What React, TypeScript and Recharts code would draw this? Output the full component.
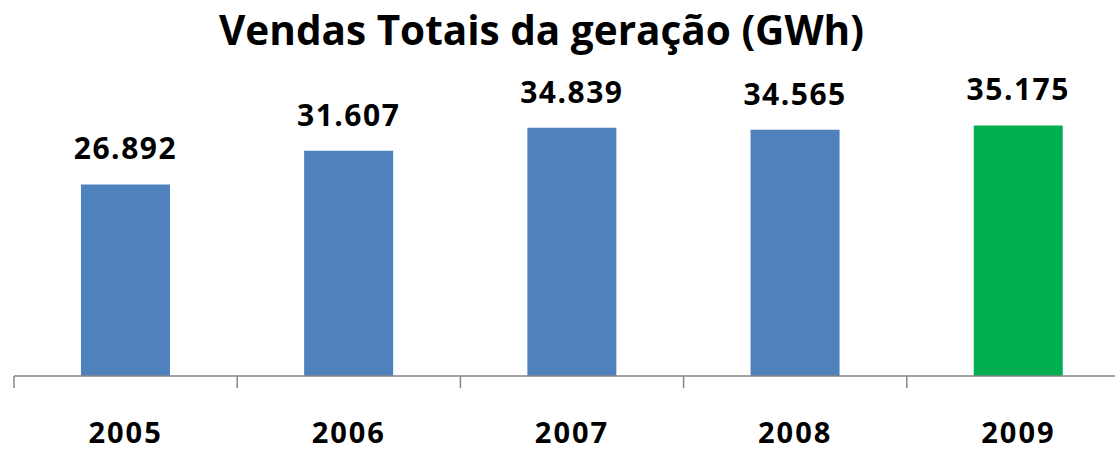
import React from 'react';
import { BarChart, Bar, XAxis, YAxis, Cell, LabelList } from 'recharts';

const years = ['2005', '2006', '2007', '2008', '2009'];
const sales = [26.892, 31.607, 34.839, 34.565, 35.175];
const valueLabels = ['26.892', '31.607', '34.839', '34.565', '35.175'];
const barColors = ['#4F81BD', '#4F81BD', '#4F81BD', '#4F81BD', '#00B050'];
const boundaryTicks = [0, 1, 2, 3, 4, 5];
const title = 'Vendas Totais da geração (GWh)';

const data = years.map((y, i) => ({ year: y, value: sales[i], label: valueLabels[i], pos: i + 0.5 }));

const FONT = '"Open Sans", sans-serif';

const EmptyTick = () => <g />;

const YearTick = (props: any) => {
  const { x, y, payload } = props;
  return (
    <text
      x={x}
      y={y + 66}
      textAnchor="middle"
      fontFamily={FONT}
      fontWeight={700}
      fontSize={29}
      letterSpacing={2}
      fill="#000"
    >
      {payload.value}
    </text>
  );
};

const ValueLabel = (props: any) => {
  const { x, y, width, index } = props;
  return (
    <text
      x={Number(x) + Number(width) / 2}
      y={Number(y) - 25}
      textAnchor="middle"
      fontFamily={FONT}
      fontWeight={700}
      fontSize={30}
      letterSpacing={1.5}
      fill="#000"
    >
      {valueLabels[index]}
    </text>
  );
};

export default function App() {
  return (
    <div style={{ position: 'absolute', left: 0, top: 0, width: 1115, height: 449, overflow: 'hidden', background: '#fff' }}>
      <BarChart
        width={1132}
        height={449}
        data={data}
        margin={{ top: 91, right: 2, bottom: 2, left: 14 }}
        barCategoryGap="30%"
      >
        <XAxis
          xAxisId="z"
          dataKey="year"
          height={70}
          axisLine={false}
          tickLine={false}
          tickSize={0}
          tickMargin={0}
          interval={0}
          tick={<YearTick />}
        />
        <XAxis
          xAxisId="a"
          dataKey="pos"
          type="number"
          domain={[0, 5]}
          ticks={boundaryTicks}
          allowDataOverflow
          interval={0}
          height={1}
          tick={<EmptyTick />}
          tickSize={12}
          tickLine={{ stroke: '#868686', strokeWidth: 1.5 }}
          axisLine={{ stroke: '#868686', strokeWidth: 1.5 }}
        />
        <YAxis hide domain={[0, 40]} />
        <Bar dataKey="value" xAxisId="z" isAnimationActive={false}>
          {data.map((d, i) => (
            <Cell key={d.year} fill={barColors[i]} />
          ))}
          <LabelList dataKey="label" content={<ValueLabel />} />
        </Bar>
      </BarChart>
      <svg width={1115} height={70} style={{ position: 'absolute', left: 0, top: 0 }}>
        <text
          x={541.5}
          y={45}
          textAnchor="middle"
          fontFamily={FONT}
          fontWeight={700}
          fontSize={40.5}
          fill="#000"
        >
          {title}
        </text>
      </svg>
    </div>
  );
}
